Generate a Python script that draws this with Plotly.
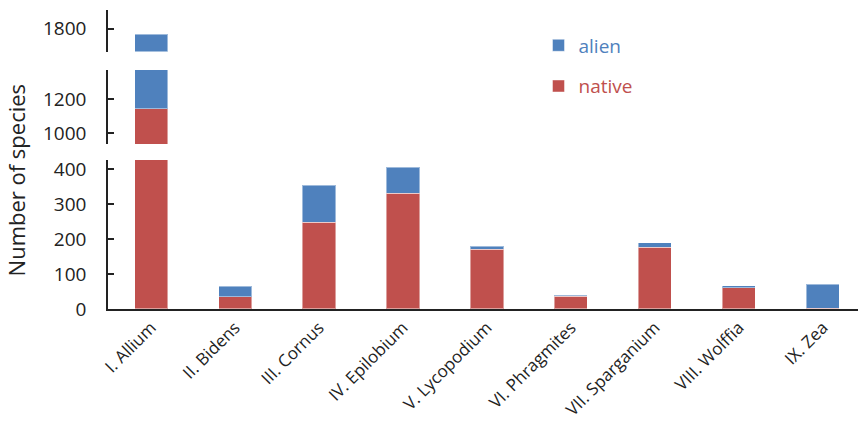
import plotly.graph_objects as go

categories = ["I. Allium", "II. Bidens", "III. Cornus", "IV. Epilobium", "V. Lycopodium",
              "VI. Phragmites", "VII. Sparganium", "VIII. Wolffia", "IX. Zea"]
native = [1144, 35, 247, 330, 171, 37, 176, 61, 2]
alien = [625, 30, 106, 74, 8, 2, 13, 6, 69]

low_ticks = [0, 100, 200, 300, 400]
mid_ticks = [1000, 1200]
top_ticks = [1800]

BLUE = "#4F81BD"
RED = "#C0504D"
FONT = "Open Sans"

fig = go.Figure()
for ax, show in (("y", True), ("y2", False), ("y3", False)):
    fig.add_trace(go.Bar(
        x=categories, y=native, yaxis=ax, xaxis="x",
        name=f"<span style='color:{RED}'>native</span>",
        marker=dict(color=RED, line=dict(color="rgba(255,255,255,0.45)", width=1)),
        showlegend=show, legendgroup="native", legendrank=2, hoverinfo="x+y"))
    fig.add_trace(go.Bar(
        x=categories, y=alien, yaxis=ax, xaxis="x",
        name=f"<span style='color:{BLUE}'>alien</span>",
        marker=dict(color=BLUE, line=dict(color="rgba(255,255,255,0.45)", width=1)),
        showlegend=show, legendgroup="alien", legendrank=1, hoverinfo="x+y"))

axis_common = dict(showline=True, linecolor="#222222", linewidth=1.5, ticks="inside",
                   ticklen=6, tickcolor="#222222", tickwidth=1.5, showgrid=False,
                   zeroline=False, tickfont=dict(family=FONT, size=19, color="#222222"),
                   ticklabelstandoff=16, anchor="x", fixedrange=True)

fig.update_layout(
    width=859, height=425,
    margin=dict(l=108, r=1, t=10, b=116),
    paper_bgcolor="white", plot_bgcolor="white",
    barmode="stack", bargap=0.607,
    font=dict(family=FONT, color="#222222"),
    xaxis=dict(range=[-0.512, 8.417], showline=True, linecolor="#222222", linewidth=2,
               ticks="", tickangle=-45, showgrid=False, zeroline=False,
               tickfont=dict(family=FONT, size=17, color="#222222"), fixedrange=True),
    yaxis=dict(domain=[0, 0.498], range=[0, 425], tickvals=low_ticks, **axis_common),
    yaxis2=dict(domain=[0.552, 0.799], range=[938, 1369], tickvals=mid_ticks, **axis_common),
    yaxis3=dict(domain=[0.861, 1.0], range=[1668, 1907], tickvals=top_ticks, **axis_common),
    legend=dict(x=0.574, y=0.945, xanchor="left", yanchor="top",
                traceorder="grouped", itemwidth=30,
                font=dict(family=FONT, size=19), tracegroupgap=13, bgcolor="rgba(0,0,0,0)"),
    annotations=[dict(text="Number of species", textangle=-90, xref="paper", yref="paper",
                      x=0, xshift=-92, y=0.43, xanchor="center", yanchor="middle",
                      showarrow=False, font=dict(family=FONT, size=22, color="#222222"))],
)

fig.write_html("out.html", config={"displayModeBar": False},
               post_script="document.body.style.margin='0px';")
